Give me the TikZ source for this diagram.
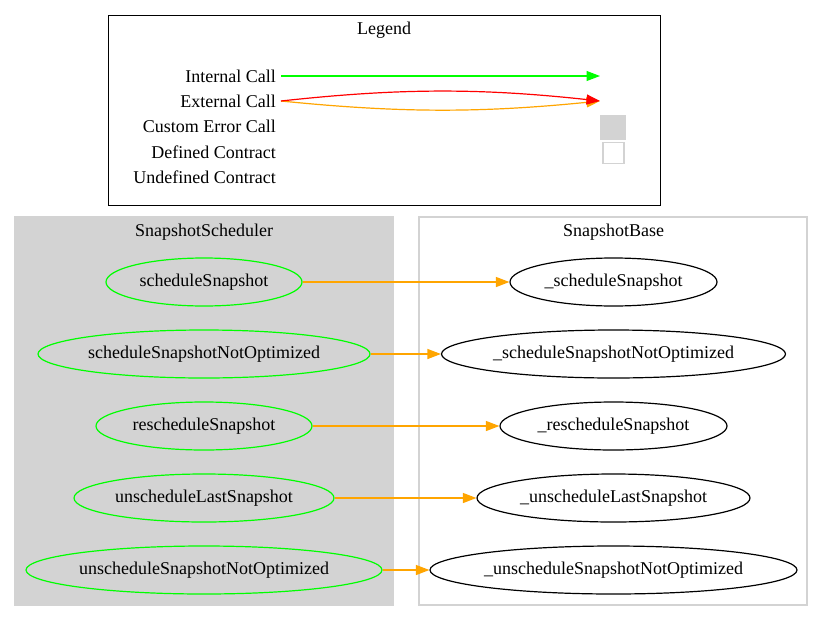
\documentclass[tikz,border=0pt]{standalone}
\usepackage{fontspec}
\setmainfont{Liberation Serif}
\usetikzlibrary{arrows.meta,shapes.geometric}
\definecolor{gvgreen}{HTML}{00FF00}
\definecolor{gvorange}{HTML}{FFA500}
\definecolor{gvred}{HTML}{FF0000}
\definecolor{gvgray}{HTML}{D3D3D3}
\tikzset{
  every node/.style={font=\fontsize{18}{21}\selectfont},
  fn/.style={ellipse, draw, line width=1.2pt, inner sep=0pt, minimum height=48pt},
  internal/.style={fn, draw=gvgreen},
  base/.style={fn, draw=black},
  call/.style={draw=gvorange, line width=1.2pt, -{Triangle[length=13.5pt,width=10pt]}},
  legarrow/.style={line width=1.2pt, -{Triangle[length=13.5pt,width=10pt]}},
  leglabel/.style={anchor=east, inner sep=0pt},
  cluster/.style={draw=gvgray, line width=1.2pt},
  title/.style={inner sep=0pt},
}
\begin{document}
\begin{tikzpicture}[x=1pt,y=-1pt]
\useasboundingbox[fill=white] (0,0) rectangle (824,621);

% legend panel
\draw[line width=1pt] (108,15) rectangle (660,205);
\node[title] (legtitle) at (384,30) {Legend};
\node[leglabel] (lint) at (276,76) {Internal Call};
\node[leglabel] (lext) at (276,101) {External Call};
\node[leglabel] (lerr) at (276,126) {Custom Error Call};
\node[leglabel] (ldef) at (276,152) {Defined Contract};
\node[leglabel] (lundef) at (276,177) {Undefined Contract};
\coordinate (int-a) at (281,76);
\coordinate (int-b) at (600,76);
\coordinate (ext-a) at (281,101);
\coordinate (ext-b) at (600,101);
\draw[legarrow, draw=gvgreen] (int-a) -- (int-b);
\draw[legarrow, draw=gvorange] (ext-a) .. controls (400,113) and (480,113) .. (ext-b);
\draw[legarrow, draw=gvred] (ext-a) .. controls (400,88) and (480,88) .. (ext-b);
\node[fill=gvgray, minimum width=26pt, minimum height=25pt, inner sep=0pt] (errbox) at (613,127) {};
\node[draw=gvgray, line width=1.2pt, minimum width=21pt, minimum height=21pt, inner sep=0pt] (defbox) at (613.5,153) {};

% contract clusters
\draw[cluster, fill=gvgray] (15,217) rectangle (393,605);
\node[title] (sched) at (204,232) {SnapshotScheduler};
\draw[cluster] (419,217) rectangle (807,605);
\node[title] (snapbase) at (613.5,232) {SnapshotBase};

% functions of SnapshotScheduler
\node[internal, minimum width=196pt] (s1) at (204,282) {scheduleSnapshot};
\node[internal, minimum width=332pt] (s2) at (204,354) {scheduleSnapshotNotOptimized};
\node[internal, minimum width=216pt] (s3) at (204,426) {rescheduleSnapshot};
\node[internal, minimum width=260pt] (s4) at (204,498) {unscheduleLastSnapshot};
\node[internal, minimum width=356pt] (s5) at (204,570) {unscheduleSnapshotNotOptimized};

% functions of SnapshotBase
\node[base, minimum width=207pt] (b1) at (613.5,282) {\_scheduleSnapshot};
\node[base, minimum width=344pt] (b2) at (613.5,354) {\_scheduleSnapshotNotOptimized};
\node[base, minimum width=227pt] (b3) at (613.5,426) {\_rescheduleSnapshot};
\node[base, minimum width=273pt] (b4) at (613.5,498) {\_unscheduleLastSnapshot};
\node[base, minimum width=367pt] (b5) at (613.5,570) {\_unscheduleSnapshotNotOptimized};

% calls
\draw[call] (s1) -- (b1);
\draw[call] (s2) -- (b2);
\draw[call] (s3) -- (b3);
\draw[call] (s4) -- (b4);
\draw[call] (s5) -- (b5);
\end{tikzpicture}
\end{document}
